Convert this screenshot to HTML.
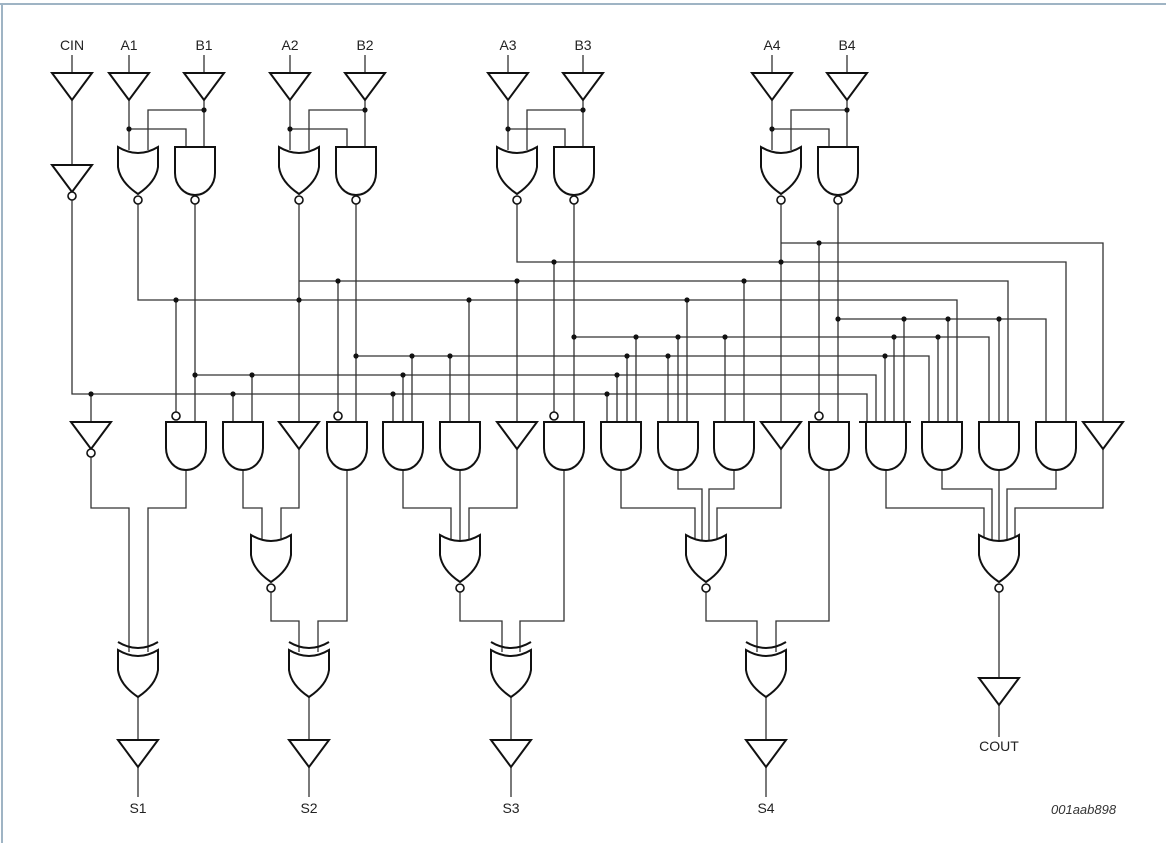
<!DOCTYPE html>
<html><head><meta charset="utf-8"><style>
html,body{margin:0;padding:0;background:#fff;}
svg{display:block;}
text{font-family:"Liberation Sans",Arial,sans-serif;font-size:14px;fill:#222;}
</style></head><body>
<svg width="1166" height="843" viewBox="0 0 1166 843" xmlns="http://www.w3.org/2000/svg">
<defs>
<g id="and"><path d="M-20,0 H20 V26 A20,22 0 0 1 -20,26 Z" fill="#fff" stroke="#111" stroke-width="2"/></g>
<g id="nand"><path d="M-20,0 H20 V26 A20,22 0 0 1 -20,26 Z" fill="#fff" stroke="#111" stroke-width="2"/><circle cx="0" cy="53" r="4" fill="#fff" stroke="#111" stroke-width="1.6"/></g>
<g id="nor"><path d="M-20,0 Q0,12 20,0 L20,20 Q18,35 0,47 Q-18,35 -20,20 Z" fill="#fff" stroke="#111" stroke-width="2"/><circle cx="0" cy="53" r="4" fill="#fff" stroke="#111" stroke-width="1.6"/></g>
<g id="xor"><path d="M-20,0 Q0,12 20,0 L20,20 Q18,35 0,47 Q-18,35 -20,20 Z" fill="#fff" stroke="#111" stroke-width="2"/><path d="M-20,-8 Q0,4 20,-8" fill="none" stroke="#111" stroke-width="2"/></g>
<g id="buf"><path d="M-20,0 H20 L0,27 Z" fill="#fff" stroke="#111" stroke-width="2"/></g>
<g id="inv"><path d="M-20,0 H20 L0,27 Z" fill="#fff" stroke="#111" stroke-width="2"/><circle cx="0" cy="31" r="4" fill="#fff" stroke="#111" stroke-width="1.6"/></g>
<g id="bub"><circle cx="0" cy="0" r="4" fill="#fff" stroke="#111" stroke-width="1.6"/></g>
</defs>
<line x1="0" y1="4" x2="1166" y2="4" stroke="#9fb4c4" stroke-width="2"/>
<line x1="2" y1="4" x2="2" y2="843" stroke="#9fb4c4" stroke-width="2"/>

<g stroke="#333" stroke-width="1.3" fill="none">
<!-- input lines -->
<path d="M72,55V73 M72,100V170 M72,200V394H867V422"/>
<path d="M129,55V73 M129,100V150 M129,129H186V150 M204,55V73 M204,100V150 M204,110H148V150"/>
<path d="M290,55V73 M290,100V150 M290,129H347V150 M365,55V73 M365,100V150 M365,110H309V150"/>
<path d="M508,55V73 M508,100V150 M508,129H565V150 M583,55V73 M583,100V150 M583,110H527V150"/>
<path d="M772,55V73 M772,100V150 M772,129H829V150 M847,55V73 M847,100V150 M847,110H791V150"/>
<!-- gate outputs to buses -->
<path d="M138,204V300H957V422"/>
<path d="M195,204V422 M195,375H876V422"/>
<path d="M299,204V422 M299,281H1008V422"/>
<path d="M356,204V422 M356,356H929V422"/>
<path d="M517,204V262H1066V422 M517,281V422"/>
<path d="M574,204V422 M574,337H989V422"/>
<path d="M781,204V422 M781,243H1103V422"/>
<path d="M838,204V422 M838,319H1046V422"/>
<!-- bus taps -->
<path d="M91,394V422 M176,300V412 M233,394V422 M252,375V422 M338,281V412 M393,394V422 M403,375V422 M412,356V422 M450,356V422 M469,300V422 M554,262V412 M607,394V422 M617,375V422 M627,356V422 M636,337V422 M668,356V422 M678,337V422 M687,300V422 M725,337V422 M744,281V422 M819,243V412 M885,356V422 M894,337V422 M904,319V422 M938,337V422 M948,319V422 M999,319V422"/>
<!-- third layer -->
<path d="M91,456V508H129V652 M186,470V508H148V652"/>
<path d="M243,470V508H262V540 M299,449V508H281V540 M271,592V621H299V652 M347,470V621H318V652"/>
<path d="M403,470V508H451V540 M460,470V540 M517,449V508H469V540 M460,592V621H502V652 M564,470V621H520V652"/>
<path d="M621,470V508H695V540 M678,470V489H702V540 M734,470V489H709V540 M781,449V508H717V540 M706,592V621H757V652 M829,470V621H776V652"/>
<path d="M886,470V508H984V540 M942,470V489H992V540 M999,470V540 M1056,470V489H1007V540 M1103,449V508H1015V540 M999,592V678 M999,705V737"/>
<!-- sums -->
<path d="M138,697V740 M138,767V797 M309,697V740 M309,767V797 M511,697V740 M511,767V797 M766,697V740 M766,767V797"/>
</g>

<g fill="#111">
<circle cx="129" cy="129" r="2.6"/><circle cx="204" cy="110" r="2.6"/>
<circle cx="290" cy="129" r="2.6"/><circle cx="365" cy="110" r="2.6"/>
<circle cx="508" cy="129" r="2.6"/><circle cx="583" cy="110" r="2.6"/>
<circle cx="772" cy="129" r="2.6"/><circle cx="847" cy="110" r="2.6"/>
<circle cx="819" cy="243" r="2.6"/>
<circle cx="554" cy="262" r="2.6"/><circle cx="781" cy="262" r="2.6"/>
<circle cx="338" cy="281" r="2.6"/><circle cx="517" cy="281" r="2.6"/><circle cx="744" cy="281" r="2.6"/>
<circle cx="176" cy="300" r="2.6"/><circle cx="299" cy="300" r="2.6"/><circle cx="469" cy="300" r="2.6"/><circle cx="687" cy="300" r="2.6"/>
<circle cx="838" cy="319" r="2.6"/><circle cx="904" cy="319" r="2.6"/><circle cx="948" cy="319" r="2.6"/><circle cx="999" cy="319" r="2.6"/>
<circle cx="574" cy="337" r="2.6"/><circle cx="636" cy="337" r="2.6"/><circle cx="678" cy="337" r="2.6"/><circle cx="725" cy="337" r="2.6"/><circle cx="894" cy="337" r="2.6"/><circle cx="938" cy="337" r="2.6"/>
<circle cx="356" cy="356" r="2.6"/><circle cx="412" cy="356" r="2.6"/><circle cx="450" cy="356" r="2.6"/><circle cx="627" cy="356" r="2.6"/><circle cx="668" cy="356" r="2.6"/><circle cx="885" cy="356" r="2.6"/>
<circle cx="195" cy="375" r="2.6"/><circle cx="252" cy="375" r="2.6"/><circle cx="403" cy="375" r="2.6"/><circle cx="617" cy="375" r="2.6"/>
<circle cx="91" cy="394" r="2.6"/><circle cx="233" cy="394" r="2.6"/><circle cx="393" cy="394" r="2.6"/><circle cx="607" cy="394" r="2.6"/>
</g>

<!-- input buffers -->
<use href="#buf" x="72" y="73"/><use href="#buf" x="129" y="73"/><use href="#buf" x="204" y="73"/>
<use href="#buf" x="290" y="73"/><use href="#buf" x="365" y="73"/>
<use href="#buf" x="508" y="73"/><use href="#buf" x="583" y="73"/>
<use href="#buf" x="772" y="73"/><use href="#buf" x="847" y="73"/>
<use href="#inv" x="72" y="165"/>
<!-- first gate row -->
<use href="#nor" x="138" y="147"/><use href="#nand" x="195" y="147"/>
<use href="#nor" x="299" y="147"/><use href="#nand" x="356" y="147"/>
<use href="#nor" x="517" y="147"/><use href="#nand" x="574" y="147"/>
<use href="#nor" x="781" y="147"/><use href="#nand" x="838" y="147"/>
<!-- second row -->
<use href="#inv" x="91" y="422"/>
<use href="#and" x="186" y="422"/><use href="#bub" x="176" y="416"/>
<use href="#and" x="243" y="422"/>
<use href="#buf" x="299" y="422"/>
<use href="#and" x="347" y="422"/><use href="#bub" x="338" y="416"/>
<use href="#and" x="403" y="422"/>
<use href="#and" x="460" y="422"/>
<use href="#buf" x="517" y="422"/>
<use href="#and" x="564" y="422"/><use href="#bub" x="554" y="416"/>
<use href="#and" x="621" y="422"/>
<use href="#and" x="678" y="422"/>
<use href="#and" x="734" y="422"/>
<use href="#buf" x="781" y="422"/>
<use href="#and" x="829" y="422"/><use href="#bub" x="819" y="416"/>
<use href="#and" x="886" y="422"/>
<line x1="859" y1="422" x2="911" y2="422" stroke="#111" stroke-width="2"/>
<use href="#and" x="942" y="422"/>
<use href="#and" x="999" y="422"/>
<use href="#and" x="1056" y="422"/>
<use href="#buf" x="1103" y="422"/>
<!-- third row NORs -->
<use href="#nor" x="271" y="535"/>
<use href="#nor" x="460" y="535"/>
<use href="#nor" x="706" y="535"/>
<use href="#nor" x="999" y="535"/>
<!-- XORs -->
<use href="#xor" x="138" y="650"/>
<use href="#xor" x="309" y="650"/>
<use href="#xor" x="511" y="650"/>
<use href="#xor" x="766" y="650"/>
<!-- output buffers -->
<use href="#buf" x="138" y="740"/><use href="#buf" x="309" y="740"/>
<use href="#buf" x="511" y="740"/><use href="#buf" x="766" y="740"/>
<use href="#buf" x="999" y="678"/>

<g text-anchor="middle">
<text x="72" y="50">CIN</text><text x="129" y="50">A1</text><text x="204" y="50">B1</text>
<text x="290" y="50">A2</text><text x="365" y="50">B2</text>
<text x="508" y="50">A3</text><text x="583" y="50">B3</text>
<text x="772" y="50">A4</text><text x="847" y="50">B4</text>
<text x="138" y="813">S1</text><text x="309" y="813">S2</text>
<text x="511" y="813">S3</text><text x="766" y="813">S4</text>
<text x="999" y="751">COUT</text>
</g>
<text x="1051" y="814" style="font-style:italic;font-size:13px;fill:#333">001aab898</text>
</svg>
</body></html>
